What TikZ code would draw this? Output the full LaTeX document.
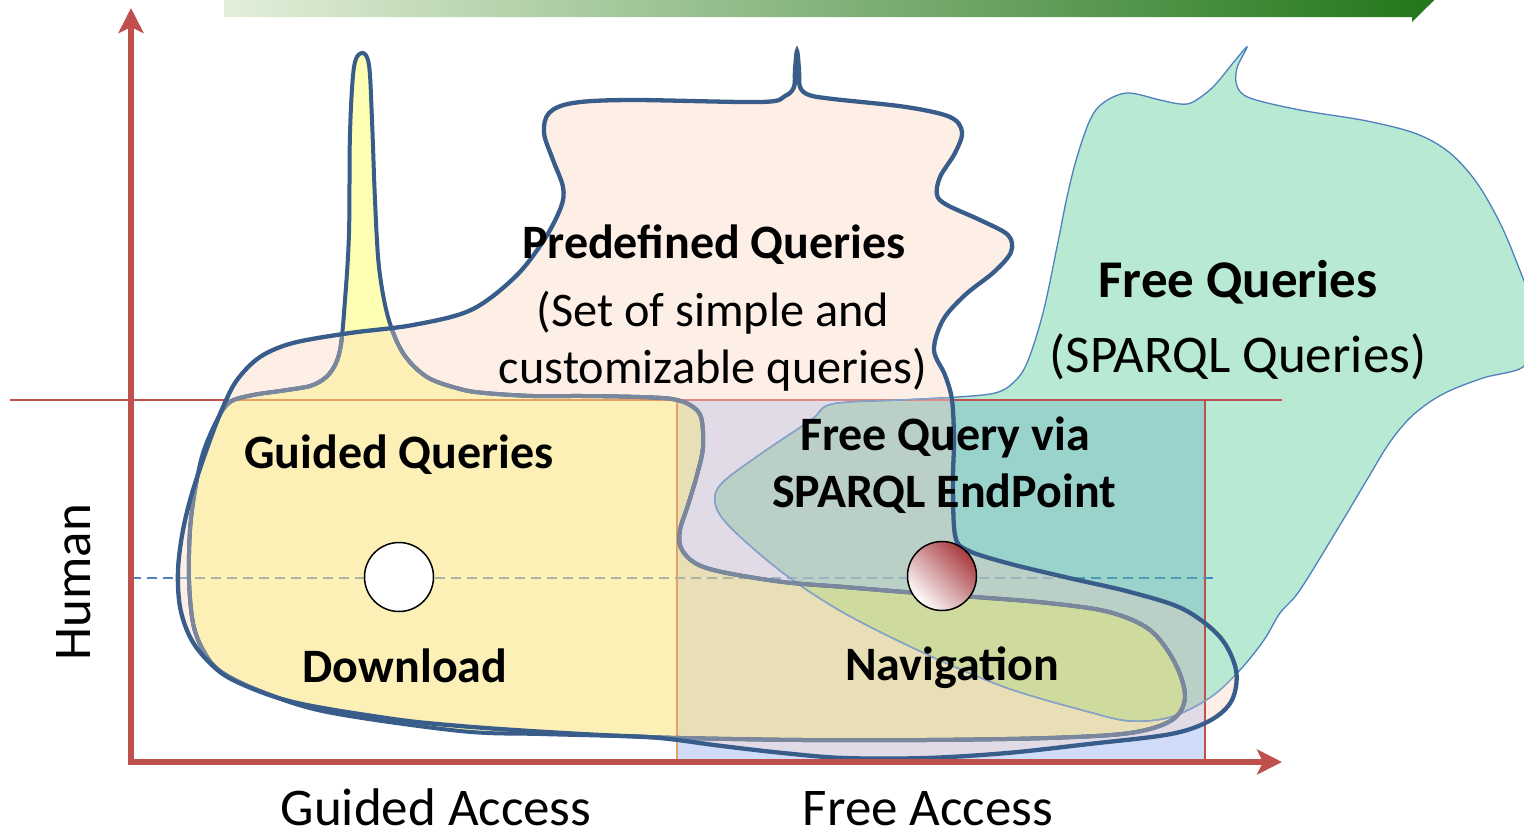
\documentclass[tikz,border=0pt]{standalone}
\usepackage{fontspec}
\setmainfont{Carlito}
\usetikzlibrary{arrows.meta}
\definecolor{cY}{HTML}{FFFFB3}
\definecolor{cP}{HTML}{FDEFE6}
\definecolor{cYP}{HTML}{FCF0B7}
\definecolor{cG}{HTML}{B8E9D2}
\definecolor{cR}{HTML}{D0DCF8}
\definecolor{cRG}{HTML}{9AD2CC}
\definecolor{cRP}{HTML}{E1DBE8}
\definecolor{cRPY}{HTML}{E8DFB7}
\definecolor{cRPG}{HTML}{BAD0C6}
\definecolor{cRPYG}{HTML}{CFDB9E}
\definecolor{darkout}{HTML}{385D8A}
\definecolor{grayout}{HTML}{7A879C}
\definecolor{gout}{HTML}{4F81BD}
\definecolor{goutP}{HTML}{8AA3C9}
\definecolor{axred}{HTML}{C0504D}
\definecolor{guideP}{HTML}{DC8C84}
\definecolor{guideY}{HTML}{E6A060}
\definecolor{dashblue}{HTML}{4F81BD}
\definecolor{dashteal}{HTML}{4A9DB3}
\definecolor{dashP}{HTML}{9DB3C4}
\definecolor{dashY}{HTML}{A8B49D}
\definecolor{arL}{HTML}{E3EFDA}
\definecolor{arM}{HTML}{A2C189}
\definecolor{arR}{HTML}{217519}
\definecolor{ballred}{HTML}{A83A3F}

\newcommand\shapeY{plot[smooth cycle,tension=0.55] coordinates {
(362,53) (369,65) (372,120) (375,200) (379,267) (388,317) (403,353) (427,377)
(460,389) (485,393) (533,396) (583,396) (640,397) (672,399) (690,405) (701,417)
(703,447) (697,475) (688,505) (680,530) (681,548) (695,563) (722,572) (783,582)
(844,587) (905,592) (975,597) (1048,603) (1109,612) (1150,630) (1175,663)
(1185,697) (1172,720) (1130,733) (1048,738) (926,740) (803,740) (681,738)
(620,736) (540,734) (460,731) (327,712) (260,691) (220,671) (203,650)
(193,623) (189,580) (190,530) (195,490) (203,453) (217,420) (230,402)
(253,395) (287,390) (313,385) (330,373) (340,350) (345,300) (349,233)
(350,133) (354,67)}}

\newcommand\shapeP{plot[smooth cycle,tension=0.55] coordinates {
(797,51) (799,70) (800,87) (809,95) (833,99) (906,107) (950,117) (962,132)
(955,153) (940,177) (937,195) (947,205) (980,220) (1008,235) (1011,252)
(994,272) (965,295) (943,320) (934,350) (945,375) (952,400) (954,440)
(953,480) (955,535) (967,550) (1007,563) (1069,578) (1130,592) (1183,609)
(1220,637) (1236,670) (1232,700) (1211,720) (1171,734) (1089,744) (1007,753)
(926,758) (844,758) (783,753) (722,746) (660,738) (600,735) (530,731)
(460,726) (393,719) (293,702) (233,680) (207,660) (190,637) (180,607)
(178,570) (183,530) (193,490) (210,440) (223,407) (237,380) (260,357)
(293,343) (350,333) (413,325) (471,310) (515,277) (544,240) (561,207)
(563,187) (553,160) (544,133) (549,113) (573,103) (631,100) (761,102)
(785,96) (794,87) (795,70)}}

\newcommand\shapeG{plot[smooth cycle,tension=0.55] coordinates {
(1247,47) (1237,68) (1237,86) (1250,98) (1300,110) (1367,121) (1417,134)
(1450,153) (1477,183) (1500,223) (1517,263) (1530,300) (1533,340) (1523,367)
(1483,378) (1443,394) (1413,415) (1390,442) (1368,478) (1340,525) (1300,590)
(1280,613) (1264,640) (1240,670) (1211,697) (1171,717) (1130,721) (1089,712)
(1007,688) (926,654) (844,613) (783,573) (730,527) (715,503) (722,483)
(762,453) (811,420) (832,404) (900,400) (958,397) (995,393) (1013,383)
(1027,363) (1043,313) (1057,247) (1067,197) (1077,157) (1090,120) (1103,103)
(1127,93) (1160,100) (1180,104) (1193,102) (1213,87) (1233,63)}}

\newcommand\rectR{(677,400) rectangle (1205,762)}
\newcommand\levelline{(131,578) -- (1215,578)}

\tikzset{
  pline/.style={draw=darkout, line width=4.3pt},
  yline/.style={draw=darkout, line width=4pt},
  gline/.style={draw=gout, line width=1.3pt},
  guide/.style={line width=1.6pt},
  dashln/.style={dash pattern=on 10pt off 6pt, line width=1.8pt, draw=dashblue},
  axis/.style={draw=axred, line width=5.5pt, -{Stealth[length=25pt,width=25pt,inset=6pt]}},
  ball/.style={circle, draw=black, line width=1.5pt, minimum size=69pt, inner sep=0pt},
  bold48/.style={font=\fontsize{48}{57}\selectfont\bfseries, anchor=base, inner sep=0pt},
  reg48/.style={font=\fontsize{48.3}{57}\selectfont, anchor=base, inner sep=0pt},
  bold53/.style={font=\fontsize{53}{62}\selectfont\bfseries, anchor=base, inner sep=0pt},
  reg53/.style={font=\fontsize{53}{62}\selectfont, anchor=base, inner sep=0pt}
}

\begin{document}
\begin{tikzpicture}[x=1pt,y=-1pt]
\clip (0,0) rectangle (1524,835);
\fill[white] (0,0) rectangle (1524,835);

% region fills
\fill[cY] \shapeY;
\fill[cP] \shapeP;
\begin{scope}\clip \shapeY; \fill[cYP] \shapeP; \end{scope}
\fill[cG] \shapeG;
\fill[cR] \rectR;
\begin{scope}\clip \rectR; \clip \shapeG; \fill[cRG] \rectR; \end{scope}
\begin{scope}\clip \rectR; \clip \shapeP; \fill[cRP] \rectR; \end{scope}
\begin{scope}\clip \rectR; \clip \shapeP; \clip \shapeY; \fill[cRPY] \rectR; \end{scope}
\begin{scope}\clip \rectR; \clip \shapeP; \clip \shapeG; \fill[cRPG] \rectR; \end{scope}
\begin{scope}\clip \rectR; \clip \shapeP; \clip \shapeY; \clip \shapeG; \fill[cRPYG] \rectR; \end{scope}

% guide lines
\draw[guide, axred] (10,400) -- (1282,400);
\draw[guide, axred] (1205,400) -- (1205,762);
\begin{scope}\clip \shapeP; \draw[guide, guideP] (10,400) -- (1282,400); \end{scope}
\begin{scope}\clip \shapeY; \draw[guide, guideY] (10,400) -- (1282,400); \end{scope}
\draw[guide, guideY] (677,400) -- (677,762);

% dashed level line
\draw[dashln] \levelline;
\begin{scope}\clip \rectR; \clip \shapeG; \draw[dashln, draw=dashteal] \levelline; \end{scope}
\begin{scope}\clip \shapeP; \draw[dashln, draw=dashP] \levelline; \end{scope}
\begin{scope}\clip \shapeY; \draw[dashln, draw=dashY] \levelline; \end{scope}

% outlines
\draw[gline] \shapeG;
\begin{scope}\clip \shapeP; \draw[gline, draw=goutP] \shapeG; \end{scope}
\draw[yline] \shapeY;
\begin{scope}\clip \shapeP; \draw[yline, draw=grayout] \shapeY; \end{scope}
\draw[pline] \shapeP;

% axes
\coordinate (origin) at (131,765);
\coordinate (ytip) at (131,8);
\coordinate (xstart) at (128.25,762);
\coordinate (xtip) at (1282,762);
\draw[axis] (origin) -- (ytip);
\draw[axis] (xstart) -- (xtip);

% top gradient arrow
\shade[left color=arL, middle color=arM, right color=arR]
  (224,-40) -- (1412,-40) -- (1412,-45) -- (1446,-11.5) -- (1412,22) -- (1412,17) -- (224,17) -- cycle;

% points
\node[ball, fill=white] (dl) at (399,577) {};
\node[ball, shading=axis, top color=ballred, bottom color=white, shading angle=-45] (nav) at (942,576) {};

% texts
\node[bold48] (pq) at (714,258) {Predefined Queries};
\node[reg48] (pq1) at (713,326) {(Set of simple and};
\node[reg48] (pq2) at (713,383) {customizable queries)};
\node[bold53] (fq) at (1238,297) {Free Queries};
\node[reg53] (fq1) at (1238,372) {(SPARQL Queries)};
\node[bold48] (gq) at (399,468) {Guided Queries};
\node[bold48] (dlt) at (405,682) {Download};
\node[bold48] (fqv) at (945,450) {Free Query via};
\node[bold48] (spe) at (944,507) {SPARQL EndPoint};
\node[bold48] (navt) at (952,680) {Navigation};
\node[reg53] (ga) at (436,825) {Guided Access};
\node[reg53] (fa) at (928,825) {Free Access};
\node[reg53, rotate=90] (hum) at (90,582) {Human};
\end{tikzpicture}
\end{document}
